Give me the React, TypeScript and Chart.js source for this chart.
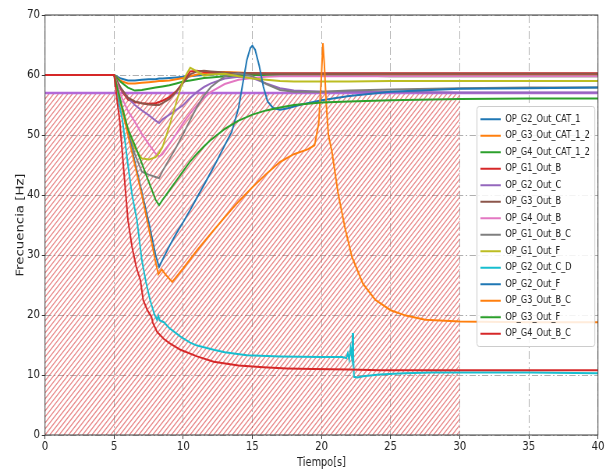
import React, { useEffect, useRef } from 'react';
import { Chart, registerables } from 'chart.js';

Chart.register(...registerables);

// ---------- data ----------
const SERIES_NAMES = [
  'OP_G2_Out_CAT_1', 'OP_G3_Out_CAT_1_2', 'OP_G4_Out_CAT_1_2', 'OP_G1_Out_B',
  'OP_G2_Out_C', 'OP_G3_Out_B', 'OP_G4_Out_B', 'OP_G1_Out_B_C', 'OP_G1_Out_F',
  'OP_G2_Out_C_D', 'OP_G2_Out_F', 'OP_G3_Out_B_C', 'OP_G3_Out_F', 'OP_G4_Out_B_C',
];
const SERIES_COLORS = [
  '#1f77b4', '#ff7f0e', '#2ca02c', '#d62728', '#9467bd', '#8c564b', '#e377c2',
  '#7f7f7f', '#bcbd22', '#17becf', '#1f77b4', '#ff7f0e', '#2ca02c', '#d62728',
];

const X_TICKS = [0, 5, 10, 15, 20, 25, 30, 35, 40];
const Y_TICKS = [0, 10, 20, 30, 40, 50, 60, 70];

// hatched zone and threshold
const HATCH_X = [0, 30];
const HATCH_Y = [0, 57];
const T_THRESHOLD = [0, 40];
const V_THRESHOLD = [57, 57];

const T_BASE = [0, 5, 5.5, 6, 6.5, 7, 7.5, 8, 8.25, 8.5, 9, 9.5, 10, 10.5, 11, 11.5, 12, 13, 14, 15, 16, 17, 18, 20, 22, 25, 30, 35, 40];

const V_G2_OUT_CAT_1 = [60, 60, 59.4, 59.1, 59.1, 59.2, 59.3, 59.3, 59.4, 59.4, 59.5, 59.6, 59.7, 59.8, 59.9, 60.0, 60.1, 60.2, 60.2, 60.1, 60.1, 60.1, 60.1, 60.1, 60.0, 60.0, 60.0, 60.0, 60.0];
const V_G3_OUT_CAT_1_2 = [60, 60, 59.0, 58.6, 58.6, 58.7, 58.8, 58.9, 59.0, 59.0, 59.1, 59.3, 59.5, 59.8, 60.1, 60.3, 60.4, 60.5, 60.4, 60.3, 60.2, 60.1, 60.0, 60.0, 60.0, 60.0, 60.0, 60.0, 60.0];
const V_G4_OUT_CAT_1_2 = [60, 60, 58.8, 57.9, 57.4, 57.5, 57.7, 57.9, 58.0, 58.1, 58.3, 58.6, 58.9, 59.1, 59.3, 59.5, 59.6, 59.8, 59.9, 60.0, 60.0, 60.0, 59.9, 59.9, 59.9, 59.8, 59.8, 59.8, 59.8];
const V_G1_OUT_B = [60, 60, 57.5, 55.9, 55.5, 55.3, 55.2, 55.3, 55.5, 55.7, 56.3, 57.3, 58.8, 60.6, 60.7, 60.5, 60.4, 60.3, 60.3, 60.3, 60.3, 60.3, 60.3, 60.3, 60.3, 60.3, 60.3, 60.3, 60.3];
const V_G2_OUT_C = [60, 60, 57.7, 56.2, 55.0, 54.1, 53.3, 52.4, 52.0, 52.6, 53.4, 54.2, 55.0, 56.2, 57.2, 58.0, 58.6, 59.4, 59.7, 59.5, 58.6, 57.8, 57.4, 57.2, 57.2, 57.2, 57.1, 57.1, 57.1];
const V_G3_OUT_B = [60, 60, 57.8, 56.2, 55.6, 55.3, 55.1, 55.0, 55.0, 55.3, 56.0, 57.2, 58.7, 60.1, 60.6, 60.7, 60.6, 60.4, 60.3, 60.3, 60.2, 60.2, 60.2, 60.2, 60.2, 60.2, 60.2, 60.2, 60.2];
const V_G4_OUT_B = [60, 60, 56.5, 54.0, 52.2, 50.2, 48.5, 46.9, 46.4, 46.8, 48.5, 50.2, 52.0, 53.6, 55.0, 56.2, 57.2, 58.5, 59.2, 59.5, 59.7, 59.8, 59.8, 59.8, 59.8, 59.8, 59.8, 59.8, 59.8];
const V_G1_OUT_B_C = [60, 60, 55.0, 51.0, 46.8, 43.9, 43.4, 43.0, 42.8, 44.0, 46.0, 48.0, 50.2, 52.5, 54.7, 56.6, 58.0, 59.8, 60.3, 59.8, 58.5, 57.5, 57.2, 57.2, 57.4, 57.6, 57.8, 57.9, 57.9];
const V_G1_OUT_F = [60, 60, 55.5, 51.0, 47.8, 46.1, 45.9, 46.3, 47.0, 48.0, 51.5, 55.5, 59.2, 61.2, 60.6, 59.9, 60.1, 60.2, 59.8, 59.4, 59.2, 59.0, 58.9, 58.9, 58.9, 59.0, 59.0, 59.0, 59.0];
const V_G3_OUT_F = [60, 60, 55.3, 51.0, 48.3, 45.3, 42.2, 39.2, 38.3, 39.2, 40.8, 42.4, 44.0, 45.6, 46.9, 48.1, 49.2, 51.0, 52.4, 53.4, 54.1, 54.6, 55.0, 55.4, 55.6, 55.8, 56.0, 56.1, 56.1];

const T_G2_OUT_C_D = [0, 5, 5.3, 5.6, 6, 6.3, 6.65, 7, 7.3, 7.6, 7.9, 8.1, 8.2, 8.3, 8.6, 9, 9.8, 10.5, 11, 12.2, 13, 14.6, 17, 20, 21.5, 21.8, 21.9, 22, 22.1, 22.2, 22.25, 22.3, 22.35, 22.6, 23, 24.2, 26, 28, 30, 35, 40];
const V_G2_OUT_C_D = [60, 60, 56, 52.5, 45, 40, 35.8, 29.2, 25.5, 22.5, 20.2, 19.2, 19.9, 19.1, 18.8, 17.8, 16.4, 15.4, 14.9, 14.2, 13.8, 13.3, 13.1, 13.0, 13.0, 12.8, 13.6, 12.6, 14.5, 12.8, 17.0, 13.5, 9.7, 9.6, 9.8, 10.1, 10.3, 10.4, 10.4, 10.4, 10.3];

const T_G2_OUT_F = [0, 5, 5.5, 6, 6.5, 7, 7.5, 8, 8.25, 8.5, 9, 9.5, 10, 10.5, 11, 11.5, 12, 12.5, 13, 13.5, 14, 14.3, 14.6, 14.85, 15, 15.2, 15.5, 15.8, 16.1, 16.5, 17, 17.5, 18.4, 20, 22, 25, 30, 35, 40];
const V_G2_OUT_F = [60, 60, 55.3, 50.5, 45.5, 40.5, 35.5, 30, 28, 29.2, 31.5, 33.6, 35.5, 37.5, 39.6, 41.7, 43.8, 46, 48.3, 50.5, 54.5, 58.5, 62.5, 64.5, 64.9, 64.2, 61.5, 58, 55.6, 54.5, 54.2, 54.4, 55, 55.8, 56.5, 57.2, 57.7, 57.8, 57.9];

const T_G3_OUT_B_C = [0, 5, 5.5, 6, 6.5, 7, 7.5, 8, 8.2, 8.45, 8.7, 9.2, 10, 11, 12, 13, 14, 15, 16, 17, 18, 19, 19.5, 19.8, 20.0, 20.1, 20.2, 20.35, 20.5, 20.75, 21.2, 21.7, 22.2, 23, 23.9, 25, 26.1, 27.5, 30, 35, 40];
const V_G3_OUT_B_C = [60, 60, 55, 50, 45, 40, 34.5, 28.8, 26.8, 27.6, 26.8, 25.5, 27.8, 30.8, 33.6, 36.3, 38.9, 41.3, 43.5, 45.5, 46.8, 47.6, 48.3, 52, 60, 65.3, 62, 55, 50, 47.3, 40.3, 34.5, 29.7, 25.2, 22.5, 20.8, 19.9, 19.2, 18.9, 18.8, 18.8];

const T_G4_OUT_B_C = [0, 5, 5.2, 5.4, 5.7, 6.0, 6.3, 6.6, 6.9, 7.1, 7.4, 7.7, 7.8, 8.1, 8.6, 9, 9.8, 11, 12.2, 14, 15.8, 17.5, 19.4, 22, 24.2, 30, 35, 40];
const V_G4_OUT_B_C = [60, 60, 56, 52.5, 44, 35.8, 31.3, 28, 25.8, 22.5, 20.8, 19.7, 18.7, 17.2, 16.0, 15.3, 14.2, 13.1, 12.2, 11.6, 11.3, 11.1, 11.0, 10.9, 10.8, 10.8, 10.8, 10.8];

const SERIES_T = [
  T_BASE, T_BASE, T_BASE, T_BASE, T_BASE, T_BASE, T_BASE, T_BASE, T_BASE,
  T_G2_OUT_C_D, T_G2_OUT_F, T_G3_OUT_B_C, T_BASE, T_G4_OUT_B_C,
];
const SERIES_V = [
  V_G2_OUT_CAT_1, V_G3_OUT_CAT_1_2, V_G4_OUT_CAT_1_2, V_G1_OUT_B, V_G2_OUT_C,
  V_G3_OUT_B, V_G4_OUT_B, V_G1_OUT_B_C, V_G1_OUT_F, V_G2_OUT_C_D, V_G2_OUT_F,
  V_G3_OUT_B_C, V_G3_OUT_F, V_G4_OUT_B_C,
];

// ---------- rendering constants ----------
const CANVAS_W = 777; // drawn wider, shown at 606 px (horizontally condensed like the reference)
const CANVAS_H = 470;
const FONT = '"DejaVu Sans", sans-serif';

const hatchPlugin = {
  id: 'hatchZone',
  beforeDatasetsDraw(chart: any) {
    const { ctx, scales } = chart;
    const xs = scales.x, ys = scales.y;
    const x0 = xs.getPixelForValue(HATCH_X[0]);
    const x1 = xs.getPixelForValue(HATCH_X[1]);
    const yTop = ys.getPixelForValue(HATCH_Y[1]);
    const yBot = ys.getPixelForValue(HATCH_Y[0]);
    const h = yBot - yTop;
    ctx.save();
    ctx.beginPath();
    ctx.rect(x0, yTop, x1 - x0, h);
    ctx.clip();
    ctx.strokeStyle = 'rgba(214,39,40,0.55)';
    ctx.lineWidth = 1.3;
    ctx.beginPath();
    for (let x = x0 - h; x < x1 + 2; x += 6.0) {
      ctx.moveTo(x, yBot);
      ctx.lineTo(x + h, yTop);
    }
    ctx.stroke();
    ctx.restore();
  },
};

const framePlugin = {
  id: 'frame',
  afterDatasetsDraw(chart: any) {
    const { ctx, chartArea: ca } = chart;
    ctx.save();
    ctx.strokeStyle = '#3a3a3a';
    ctx.lineWidth = 1;
    ctx.strokeRect(ca.left, ca.top, ca.right - ca.left, ca.bottom - ca.top);
    ctx.restore();
  },
};

const legendPlugin = {
  id: 'mplLegend',
  afterDraw(chart: any) {
    const { ctx, chartArea: ca } = chart;
    const fs = 10.5;
    const rowH = 16.5;
    const pad = 4.5;
    const handleLen = 26;
    const gap = 6;
    ctx.save();
    ctx.font = `${fs}px ${FONT}`;
    const textW = Math.max(...SERIES_NAMES.map((n) => ctx.measureText(n).width));
    const boxW = pad + handleLen + gap + textW + pad + 2;
    const boxH = rowH * SERIES_NAMES.length + 2 * pad;
    const right = ca.right - 4;
    const left = right - boxW;
    const top = (ca.top + ca.bottom) / 2 + 1.5 - boxH / 2;
    ctx.beginPath();
    if ((ctx as any).roundRect) (ctx as any).roundRect(left, top, boxW, boxH, 3);
    else ctx.rect(left, top, boxW, boxH);
    ctx.fillStyle = 'rgba(255,255,255,0.85)';
    ctx.fill();
    ctx.strokeStyle = '#cccccc';
    ctx.lineWidth = 1;
    ctx.stroke();
    ctx.textBaseline = 'middle';
    ctx.textAlign = 'left';
    SERIES_NAMES.forEach((name, i) => {
      const y = top + pad + rowH * (i + 0.5);
      ctx.strokeStyle = SERIES_COLORS[i];
      ctx.lineWidth = 2;
      ctx.beginPath();
      ctx.moveTo(left + pad, y);
      ctx.lineTo(left + pad + handleLen, y);
      ctx.stroke();
      ctx.fillStyle = '#222';
      ctx.fillText(name, left + pad + handleLen + gap, y);
    });
    ctx.restore();
  },
};

export default function App() {
  const canvasRef = useRef<HTMLCanvasElement | null>(null);

  useEffect(() => {
    const canvas = canvasRef.current;
    if (!canvas) return;
    const n = SERIES_NAMES.length;
    const datasets: any[] = [
      {
        label: '',
        data: T_THRESHOLD.map((t, i) => ({ x: t, y: V_THRESHOLD[i] })),
        borderColor: '#b36ad8',
        borderWidth: 2.5,
        pointRadius: 0,
        order: 100,
      },
      ...SERIES_NAMES.map((name, i) => ({
        label: name,
        data: SERIES_T[i].map((t, j) => ({ x: t, y: SERIES_V[i][j] })),
        borderColor: SERIES_COLORS[i],
        backgroundColor: SERIES_COLORS[i],
        borderWidth: 2,
        pointRadius: 0,
        tension: 0,
        order: n - i,
      })),
    ];

    const tickFont = { family: FONT, size: 13 };
    const chart = new Chart(canvas, {
      type: 'line',
      data: { datasets },
      plugins: [hatchPlugin, framePlugin, legendPlugin],
      options: {
        animation: false,
        responsive: false,
        devicePixelRatio: 1,
        layout: { padding: { top: 15, right: 10.3, left: 0, bottom: 0 } },
        plugins: { legend: { display: false }, tooltip: { enabled: false } },
        elements: { point: { radius: 0 } },
        scales: {
          x: {
            type: 'linear',
            min: 0,
            max: 40,
            afterBuildTicks: (s: any) => { s.ticks = X_TICKS.map((v) => ({ value: v })); },
            afterFit: (s: any) => { s.height = 35; },
            ticks: { font: tickFont, color: '#222', padding: 0, maxRotation: 0, autoSkip: false },
            grid: { color: '#b0b0b0', lineWidth: 1, tickLength: 4, tickColor: '#333', tickWidth: 1 },
            border: { display: false, dash: [8, 3, 2, 3] },
            title: { display: true, text: 'Tiempo[s]', font: { family: FONT, size: 12.5 }, color: '#222', padding: { top: 0, bottom: 0 } },
          },
          y: {
            type: 'linear',
            min: 0,
            max: 70,
            afterBuildTicks: (s: any) => { s.ticks = Y_TICKS.map((v) => ({ value: v })); },
            afterFit: (s: any) => { s.width = 57.7; },
            ticks: { font: tickFont, color: '#222', padding: 2.5, autoSkip: false },
            grid: { color: '#b0b0b0', lineWidth: 1, tickLength: 4, tickColor: '#333', tickWidth: 1 },
            border: { display: false, dash: [8, 3, 2, 3] },
            title: { display: true, text: 'Frecuencia [Hz]', font: { family: FONT, size: 13.3 }, color: '#222', padding: { top: 19, bottom: 0 } },
          },
        },
      } as any,
    });
    return () => chart.destroy();
  }, []);

  return (
    <div style={{ position: 'absolute', left: 0, top: 0, width: 606, height: 470 }}>
      <canvas
        ref={canvasRef}
        width={CANVAS_W}
        height={CANVAS_H}
        style={{ width: '606px', height: '470px', display: 'block' }}
      />
    </div>
  );
}
